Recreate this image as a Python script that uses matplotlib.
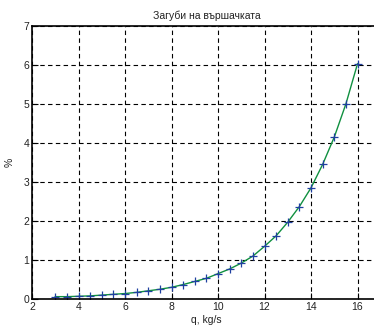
import numpy as np
import matplotlib.pyplot as plt

plt.rcParams['font.family'] = ['Liberation Sans', 'DejaVu Sans']

# flow rate, kg/s
q = [3, 3.5, 4, 4.5, 5, 5.5, 6, 6.5, 7, 7.5, 8, 8.5, 9, 9.5, 10,
     10.5, 11, 11.5, 12, 12.5, 13, 13.5, 14, 14.5, 15, 15.5, 16]
# losses, %
loss = [0.06, 0.06, 0.07, 0.08, 0.10, 0.12, 0.14, 0.17, 0.21, 0.25, 0.30,
        0.37, 0.45, 0.53, 0.65, 0.77, 0.92, 1.10, 1.35, 1.62, 1.97, 2.37,
        2.85, 3.45, 4.15, 5.00, 6.03]

fig = plt.figure(figsize=(3.74, 3.26), dpi=100)
ax = fig.add_axes([32/374, 27/326, 348.75/374, 273/326])

ax.plot(q, loss, color='#109040', lw=1.0)
ax.plot(q, loss, ls='none', marker='+', color='#2040a0', ms=6, mew=0.9)

ax.set_xlim(2, 17)
ax.set_ylim(0, 7)
ax.set_xticks(np.arange(2, 17, 2))
ax.set_yticks(np.arange(0, 8, 1))
ax.grid(True, ls=(0, (4, 3)), color='black', lw=0.8)
ax.tick_params(direction='in', labelsize=7.5, length=4, pad=2, labelcolor='#222222')
for s in ax.spines.values():
    s.set_linewidth(1.2)

ax.set_title('Загуби на вършачката', fontsize=7.5, pad=5, color='#222222')
ax.set_xlabel('q, kg/s', fontsize=7.5, labelpad=2, color='#222222')
ax.set_ylabel('%', fontsize=7.5, labelpad=6, color='#222222')

fig.savefig('out.png', dpi=100)
